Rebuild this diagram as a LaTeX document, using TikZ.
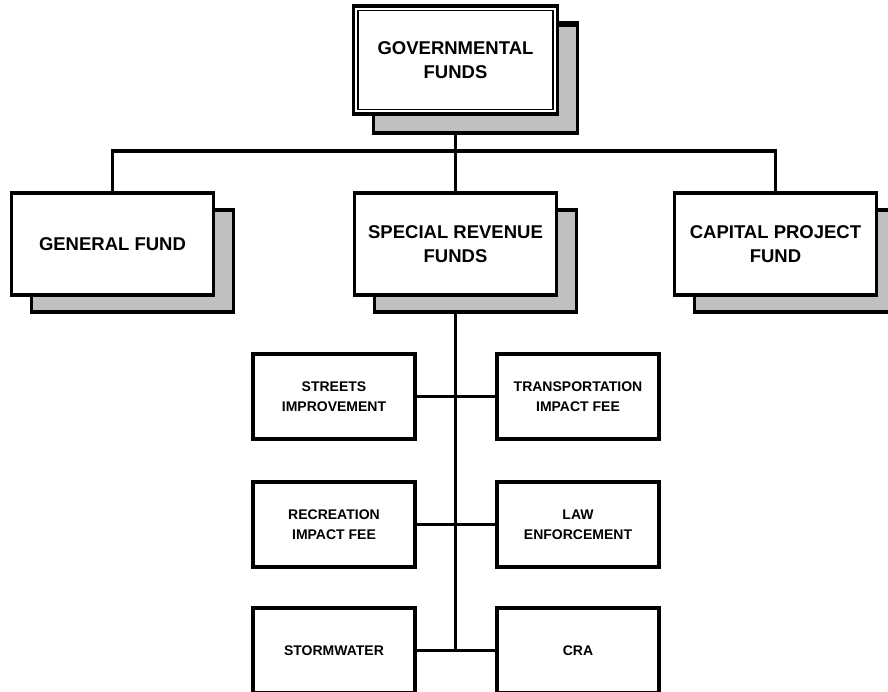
\documentclass[tikz,border=0pt]{standalone}
\usepackage{fontspec}
\setmainfont{Liberation Sans}
\usetikzlibrary{positioning, shadows, backgrounds}

\definecolor{shadowgray}{RGB}{192,192,192}

\tikzset{
  box/.style = {draw, rectangle, line width=3.3pt, fill=white, outer sep=0pt, inner sep=0pt, align=center},
  fund/.style = {box, minimum width=202pt, minimum height=102pt,
    font=\fontsize{18.5}{24}\selectfont\bfseries,
    general shadow={fill=shadowgray, draw=black, line width=3.3pt, shadow xshift=20pt, shadow yshift=-17pt}},
  topfund/.style = {fund, minimum width=204pt, minimum height=108pt,
    general shadow={fill=shadowgray, draw=black, line width=3.3pt, shadow xshift=20pt, shadow yshift=-19pt},
    path picture={\draw[line width=1.3pt]
      ([shift={(4.5pt,-4.5pt)}]path picture bounding box.north west) rectangle
      ([shift={(-4.5pt,4.5pt)}]path picture bounding box.south east);}},
  subfund/.style = {box, minimum width=162pt, minimum height=85pt,
    font=\fontsize{14}{20}\selectfont\bfseries},
  link/.style = {line width=3.3pt}
}

\begin{document}
\begin{tikzpicture}[x=1pt, y=-1pt]
  \useasboundingbox (0,0) rectangle (888,691);
  \clip (0,0) rectangle (888,691);

  % top level and the three fund groups
  \node[topfund] (gov) at (455.5,60) {GOVERNMENTAL\\FUNDS};
  \node[fund] (special) [below = 79pt of gov] {SPECIAL REVENUE\\FUNDS};
  \node[fund] (general) [left = 141pt of special] {GENERAL FUND};
  \node[fund] (capital) [right = 118pt of special] {CAPITAL PROJECT\\FUND};

  % special revenue funds
  \node[subfund] (streets) at (334,396.5) {STREETS\\IMPROVEMENT};
  \node[subfund] (transport) [right = 82pt of streets] {TRANSPORTATION\\IMPACT FEE};
  \node[subfund] (recreation) [below = 43pt of streets] {RECREATION\\IMPACT FEE};
  \node[subfund] (law) [right = 82pt of recreation] {LAW\\ENFORCEMENT};
  \node[subfund] (storm) [below = 41pt of recreation] {STORMWATER};
  \node[subfund] (cra) [right = 82pt of storm] {CRA};

  \begin{scope}[on background layer]
    \coordinate (bar) at ([yshift=-37pt]gov.south);
    \draw[link] (general.north) |- (bar) -| (capital.north);
    \draw[link] (gov.south) -- (special.north);
    \draw[link] (special.south) -- (special.south |- storm.east);
    \draw[link] (streets.east) -- (transport.west);
    \draw[link] (recreation.east) -- (law.west);
    \draw[link] (storm.east) -- (cra.west);
  \end{scope}
\end{tikzpicture}
\end{document}
